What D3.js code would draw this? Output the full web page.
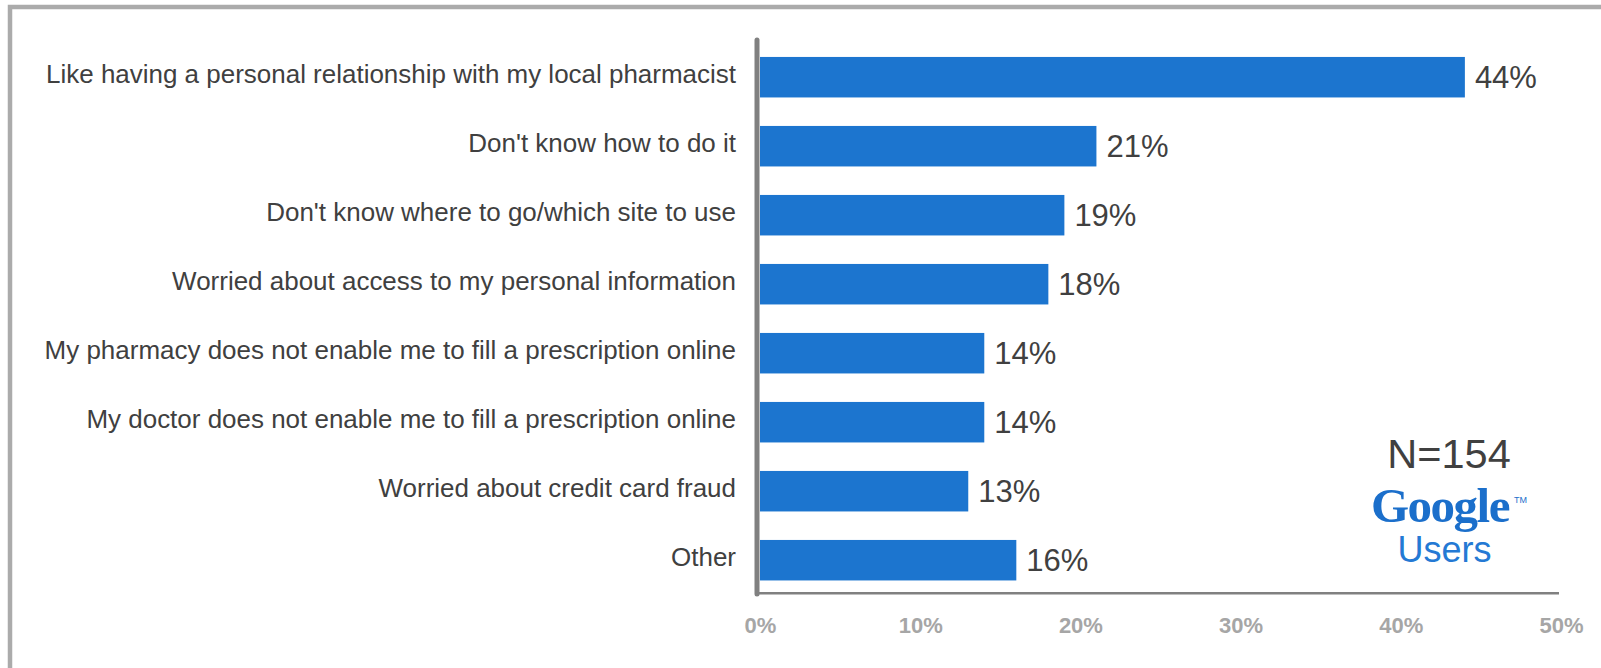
<!DOCTYPE html>
<html>
<head>
<meta charset="utf-8">
<script src="https://cdn.jsdelivr.net/npm/d3@7"></script>
<style>
  html, body { margin: 0; padding: 0; background: #fff; }
  svg { display: block; }
</style>
</head>
<body>
<svg id="chart" width="1601" height="668"></svg>
<script>
// Reasons for not filling prescriptions online
const categories = [
  "Like having a personal relationship with my local pharmacist",
  "Don't know how to do it",
  "Don't know where to go/which site to use",
  "Worried about access to my personal information",
  "My pharmacy does not enable me to fill a prescription online",
  "My doctor does not enable me to fill a prescription online",
  "Worried about credit card fraud",
  "Other"
];
const values = [44, 21, 19, 18, 14, 14, 13, 16];
const tickValues = [0, 10, 20, 30, 40, 50];
const sampleLabel = "N=154";

const svg = d3.select("#chart");
const FONT = "'Liberation Sans', Arial, Helvetica, sans-serif";

// Frame (top and left edges)
svg.append("path")
  .attr("d", "M10,668 L10,7 L1601,7")
  .attr("fill", "none")
  .attr("stroke", "#ababab")
  .attr("stroke-width", 4.5);

const x = d3.scaleLinear().domain([0, 50]).range([760, 1561]);
const y = d3.scaleBand()
  .domain(categories)
  .range([42.7, 594.7])
  .paddingInner(0.413)
  .paddingOuter(0.2065);

// Bars
svg.append("g").selectAll("rect")
  .data(categories)
  .join("rect")
  .attr("x", x(0))
  .attr("y", d => y(d))
  .attr("width", (d, i) => x(values[i]) - x(0))
  .attr("height", y.bandwidth())
  .attr("fill", "#1c75cf");

// Value labels
svg.append("g").selectAll("text")
  .data(categories)
  .join("text")
  .attr("x", (d, i) => x(values[i]) + 10)
  .attr("y", d => y(d) + y.bandwidth() / 2 + 11)
  .attr("font-family", FONT)
  .attr("font-size", 31)
  .attr("fill", "#404040")
  .text((d, i) => values[i] + "%");

// Category labels
svg.append("g").selectAll("text")
  .data(categories)
  .join("text")
  .attr("x", 736)
  .attr("y", d => y(d) + y.bandwidth() / 2 + 5.5)
  .attr("text-anchor", "end")
  .attr("font-family", FONT)
  .attr("font-size", 25.97)
  .attr("fill", "#404040")
  .text(d => d);

// Horizontal axis with tick labels
const xAxis = svg.append("g")
  .attr("transform", "translate(0,593.3)")
  .call(d3.axisBottom(x)
    .tickValues(tickValues)
    .tickFormat(d => d + "%")
    .tickSize(0)
    .tickPadding(24));
xAxis.select(".domain").remove();
xAxis.selectAll("text")
  .attr("font-family", FONT)
  .attr("font-size", 22)
  .attr("font-weight", "bold")
  .attr("fill", "#a6a6a6");

svg.append("line")
  .attr("x1", x(0) - 3).attr("x2", x(50) - 2)
  .attr("y1", 593.3).attr("y2", 593.3)
  .attr("stroke", "#808080")
  .attr("stroke-width", 2.5);

// Vertical axis line
svg.append("line")
  .attr("x1", x(0) - 3).attr("x2", x(0) - 3)
  .attr("y1", 40).attr("y2", 594)
  .attr("stroke", "#808080")
  .attr("stroke-width", 5)
  .attr("stroke-linecap", "round");

// Sample size and source badge
svg.append("text")
  .attr("x", 1449).attr("y", 468)
  .attr("text-anchor", "middle")
  .attr("font-family", FONT)
  .attr("font-size", 41.5)
  .attr("fill", "#404040")
  .text(sampleLabel);

svg.append("text")
  .attr("x", 1440).attr("y", 522)
  .attr("text-anchor", "middle")
  .attr("font-family", "'Liberation Serif', 'Times New Roman', serif")
  .attr("font-weight", "bold")
  .attr("font-size", 49)
  .attr("letter-spacing", -1.5)
  .attr("fill", "#1b6fcb")
  .text("Google");

svg.append("text")
  .attr("x", 1514).attr("y", 503)
  .attr("font-family", FONT)
  .attr("font-size", 9)
  .attr("fill", "#1b6fcb")
  .text("TM");

svg.append("text")
  .attr("x", 1444.5).attr("y", 562)
  .attr("text-anchor", "middle")
  .attr("font-family", FONT)
  .attr("font-size", 36)
  .attr("fill", "#2479d4")
  .text("Users");
</script>
</body>
</html>
